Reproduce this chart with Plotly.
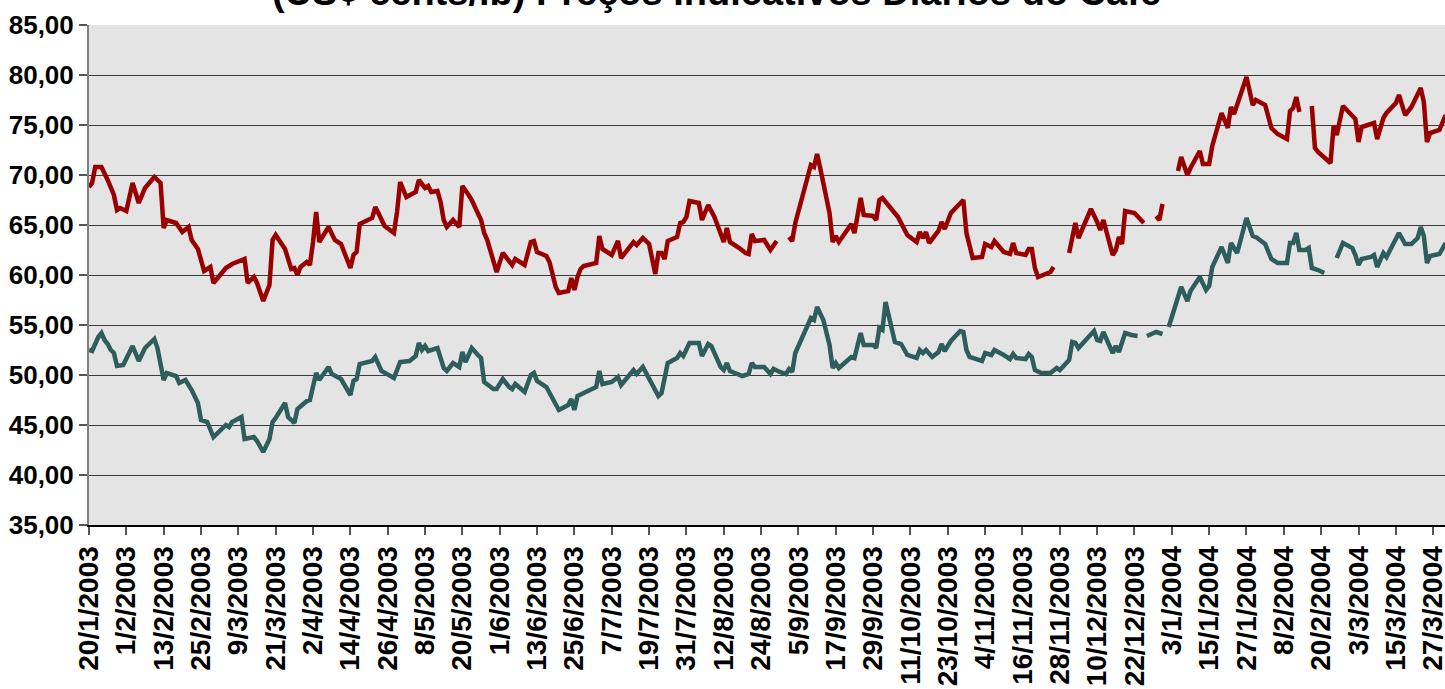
import plotly.graph_objects as go
import pandas as pd

# daily prices, x = days since 20/1/2003, None = no quote
start = pd.Timestamp("2003-01-20")

red_day = [0, 1, 2, 4, 6, 8, 9, 10, 12, 14,
           15, 16, 18, 21, 23, 24, 25, 28, 30, 32,
           33, 35, 37, 39, 40, 44, 46, 50, 51, 53,
           54, 56, 58, 59, 60, 63, 65, 66, 67, 68,
           70, 71, 72, 73, 74, 77, 79, 81, 84, 85,
           86, 87, 91, 92, 93, 95, 98, 99, 100, 102,
           105, 106, 108, 109, 110, 112, 113, 114, 115, 117,
           119, 120, 122, 123, 126, 127, 128, 131, 133, 136,
           137, 140, 142, 143, 144, 147, 148, 150, 151, 154,
           155, 156, 157, 158, 159, 163, 164, 165, 168, 170,
           171, 175, 176, 178, 180, 182, 183, 184, 185, 186,
           189, 190, 191, 192, 193, 196, 197, 199, 201, 203,
           204, 205, 206, 209, 211, 212, 213, 214, 217, 219,
           221, 222, 225, 226, 227, 232, 233, 234, 235, 238,
           239, 240, 241, 242, 245, 246, 248, 249, 252, 253,
           254, 255, 256, 259, 260, 263, 266, 267, 268, 269,
           270, 273, 274, 275, 277, 281, 282, 284, 287, 288,
           290, 291, 294, 296, 297, 298, 301, 302, 303, 304,
           305, 309, 310, 312, 315, 317, 318, 322, 324, 325,
           326, 329, 330, 331, 332, 333, 336, 339, 341, 343,
           344, 345, 347, 350, 351, 353, 354, 357, 358, 360,
           361, 364, 366, 367, 368, 372, 374, 375, 378, 380,
           382, 385, 386, 387, 388, 389, 391, 393, 394, 395,
           399, 400, 401, 403, 405, 407, 408, 409, 412, 413,
           414, 416, 417, 420, 421, 423, 425, 428, 429, 430,
           431, 434, 436]
red_val = [68.8, 69.2, 70.8, 70.8, 69.5, 68.0, 66.5, 66.7, 66.4, 69.2,
           68.2, 67.2, 68.7, 69.8, 69.2, 64.7, 65.5, 65.2, 64.3, 64.8,
           63.5, 62.6, 60.4, 60.8, 59.2, 60.7, 61.1, 61.6, 59.2, 59.8,
           59.2, 57.4, 59.0, 63.5, 64.0, 62.6, 60.6, 60.7, 60.0, 60.8,
           61.3, 61.0, 63.3, 66.3, 63.3, 64.8, 63.5, 63.1, 60.7, 62.0,
           62.3, 65.1, 65.7, 66.8, 66.2, 64.9, 64.2, 66.3, 69.3, 67.8,
           68.3, 69.5, 68.7, 68.9, 68.3, 68.4, 67.3, 65.5, 64.8, 65.5,
           64.8, 68.9, 68.0, 67.5, 65.5, 64.2, 63.5, 60.3, 62.2, 61.0,
           61.6, 61.0, 63.3, 63.4, 62.3, 61.9, 61.3, 58.8, 58.2, 58.4,
           59.7, 58.5, 59.8, 60.6, 60.9, 61.2, 63.9, 62.6, 62.0, 63.4,
           61.7, 63.3, 63.0, 63.7, 63.1, 60.1, 62.2, 62.2, 61.6, 63.4,
           63.8, 65.2, 65.3, 65.8, 67.4, 67.2, 65.5, 67.0, 65.8, 64.2,
           63.3, 64.7, 63.3, 62.7, 62.2, 62.1, 64.1, 63.4, 63.5, 62.5,
           63.4, None, 63.8, 63.4, 65.2, 71.0, 70.8, 72.1, 70.7, 66.2,
           63.3, 63.9, 63.3, 63.8, 65.1, 64.2, 67.7, 66.0, 65.9, 65.5,
           67.5, 67.7, 67.3, 66.2, 65.8, 64.0, 63.3, 64.3, 63.7, 64.3,
           63.2, 64.4, 65.3, 64.6, 66.2, 67.5, 64.2, 61.7, 61.8, 63.1,
           62.8, 63.4, 62.3, 62.1, 63.2, 62.2, 62.0, 62.6, 62.6, 60.7,
           59.8, 60.3, 60.8, None, 62.2, 65.2, 63.7, 66.6, 65.3, 64.5,
           65.5, 62.0, 62.5, 63.8, 63.1, 66.4, 66.2, 65.2, None, 65.9,
           65.5, 67.1, None, 70.4, 71.8, 70.0, 70.7, 72.4, 71.1, 71.1,
           72.9, 76.2, 74.7, 76.8, 76.1, 79.8, 77.0, 77.5, 77.0, 74.7,
           74.1, 73.6, 76.4, 76.7, 77.8, 76.3, None, 76.9, 72.7, 72.3,
           71.2, 74.9, 74.0, 76.9, 76.2, 75.6, 73.3, 74.8, 75.1, 75.2,
           73.6, 75.7, 76.2, 77.2, 78.0, 76.0, 76.8, 78.7, 77.3, 73.3,
           74.2, 74.5, 76.0]

teal_day = [0, 1, 3, 4, 5, 6, 7, 8, 9, 11,
            14, 15, 16, 18, 21, 22, 24, 25, 28, 29,
            31, 33, 35, 36, 38, 40, 44, 45, 46, 49,
            50, 53, 54, 56, 58, 59, 60, 63, 64, 66,
            67, 70, 71, 73, 74, 77, 78, 81, 84, 85,
            86, 87, 91, 92, 94, 98, 100, 103, 105, 106,
            107, 108, 109, 112, 114, 115, 117, 119, 120, 121,
            123, 125, 126, 127, 130, 131, 133, 135, 136, 137,
            140, 142, 143, 144, 147, 151, 154, 155, 156, 157,
            159, 163, 164, 165, 168, 170, 171, 173, 175, 176,
            178, 183, 184, 186, 189, 190, 191, 193, 196, 197,
            199, 200, 203, 204, 205, 206, 210, 212, 213, 214,
            217, 219, 220, 222, 224, 225, 226, 227, 232, 233,
            234, 236, 238, 239, 240, 241, 245, 246, 248, 249,
            252, 253, 254, 255, 256, 259, 261, 263, 266, 267,
            268, 269, 271, 273, 274, 275, 277, 280, 281, 282,
            283, 287, 288, 290, 291, 294, 296, 297, 298, 301,
            302, 303, 304, 306, 309, 311, 312, 315, 316, 317,
            318, 323, 324, 325, 326, 329, 330, 331, 333, 335,
            337, 338, 340, 343, 345, 346, 347, 351, 353, 354,
            357, 359, 360, 361, 364, 366, 367, 369, 372, 374,
            375, 378, 380, 382, 385, 386, 387, 388, 389, 391,
            392, 393, 395, 397, 399, 401, 403, 406, 407, 408,
            409, 412, 413, 414, 416, 417, 421, 423, 425, 427,
            428, 429, 430, 431, 434, 436]
teal_val = [52.5, 52.4, 53.8, 54.2, 53.5, 53.1, 52.5, 52.2, 50.9, 51.0,
            52.9, 52.0, 51.4, 52.7, 53.6, 52.7, 49.5, 50.2, 49.9, 49.2,
            49.5, 48.5, 47.2, 45.5, 45.3, 43.8, 45.0, 44.8, 45.3, 45.8,
            43.6, 43.8, 43.4, 42.3, 43.6, 45.3, 45.7, 47.2, 45.8, 45.2,
            46.6, 47.4, 47.5, 50.2, 49.5, 50.8, 50.1, 49.6, 48.0, 49.4,
            49.6, 51.1, 51.4, 51.8, 50.4, 49.7, 51.3, 51.4, 51.9, 53.2,
            52.5, 52.9, 52.4, 52.7, 50.7, 50.4, 51.2, 50.8, 52.3, 51.3,
            52.7, 52.0, 51.7, 49.3, 48.6, 48.6, 49.6, 48.8, 48.6, 49.1,
            48.3, 50.0, 50.2, 49.4, 48.8, 46.5, 47.0, 47.6, 46.5, 47.9,
            48.2, 48.8, 50.4, 49.1, 49.3, 49.8, 49.0, 49.8, 50.5, 50.1,
            50.8, 47.9, 48.2, 51.2, 51.7, 52.2, 51.9, 53.2, 53.2, 51.9,
            53.1, 52.9, 50.8, 50.5, 51.2, 50.4, 49.9, 50.1, 51.2, 50.8,
            50.8, 50.1, 50.6, 50.3, 50.1, 50.6, 50.3, 52.2, 55.7, 55.5,
            56.8, 55.5, 53.0, 50.7, 51.2, 50.7, 51.8, 51.7, 54.2, 53.0,
            53.0, 52.7, 54.7, 54.5, 57.3, 53.3, 53.1, 52.0, 51.7, 52.5,
            52.2, 52.5, 51.8, 52.3, 53.1, 52.4, 53.4, 54.4, 54.3, 52.5,
            51.8, 51.4, 52.2, 52.0, 52.5, 52.0, 51.6, 52.1, 51.7, 51.6,
            52.1, 51.8, 50.5, 50.2, 50.2, 50.7, 50.5, 51.5, 53.3, 53.2,
            52.7, 54.4, 53.5, 53.4, 54.3, 52.2, 52.9, 52.3, 54.2, 54.0,
            53.9, None, 53.9, 54.3, 54.1, None, 54.8, 58.8, 57.4, 58.4,
            59.8, 58.5, 58.9, 60.8, 62.8, 61.2, 63.2, 62.2, 65.7, 63.9,
            63.8, 63.1, 61.6, 61.2, 61.2, 63.2, 63.2, 64.2, 62.5, 62.5,
            62.7, 60.7, 60.5, 60.2, None, 61.7, 63.2, 62.7, 62.0, 61.0,
            61.6, 61.8, 62.0, 60.8, 62.2, 61.8, 64.2, 63.1, 63.1, 63.7,
            64.8, 63.9, 61.2, 61.9, 62.1, 63.2]

title_text = "(US¢ cents/lb) Preços Indicativos Diários do Café"

red_x = start + pd.to_timedelta(red_day, unit="D")
teal_x = start + pd.to_timedelta(teal_day, unit="D")

tick_dates = pd.date_range(start, "2004-03-27", freq="12D")
tick_text = [f"{d.day}/{d.month}/{d.year}" for d in tick_dates]

fig = go.Figure()
fig.add_trace(go.Scatter(x=red_x, y=red_val, mode="lines",
                         line=dict(color="#990000", width=4.5),
                         connectgaps=False, showlegend=False))
fig.add_trace(go.Scatter(x=teal_x, y=teal_val, mode="lines",
                         line=dict(color="#2E5E5C", width=4.5),
                         connectgaps=False, showlegend=False))

fig.update_layout(
    width=1445, height=689,
    margin=dict(l=89, r=0, t=25, b=164),
    paper_bgcolor="white",
    plot_bgcolor="#E4E4E4",
    separators=",.",
    font=dict(family="Liberation Sans, Arial, sans-serif", color="black"),
)

# title sits mostly above the page top, only its lower part shows
fig.add_annotation(text=title_text, xref="paper", yref="paper",
                   x=0.463, y=1, xanchor="center", yanchor="bottom",
                   yshift=10, showarrow=False,
                   font=dict(size=38, weight="bold", color="black"))

fig.update_xaxes(
    type="date",
    range=[start, start + pd.Timedelta(days=435.8)],
    tickmode="array", tickvals=tick_dates, ticktext=tick_text,
    tickangle=-90, tickfont=dict(size=28, weight="bold"),
    ticklabeloverflow="allow",
    ticks="outside", ticklen=8, tickcolor="#555", tickwidth=1.5,
    showgrid=False, showline=True, linecolor="black", linewidth=2,
    zeroline=False, automargin=False,
)
fig.update_yaxes(
    range=[35, 85], dtick=5, tick0=35, tickformat=".2f",
    tickfont=dict(size=26, weight="bold"),
    ticks="outside", ticklen=8, tickcolor="#555", tickwidth=1.5,
    showgrid=True, gridcolor="#3a3a3a", gridwidth=1.2,
    showline=True, linecolor="#808080", linewidth=2,
    zeroline=False, automargin=False,
)

fig.write_html("out.html", config={"displayModeBar": False},
               post_script="document.body.style.margin='0';")
